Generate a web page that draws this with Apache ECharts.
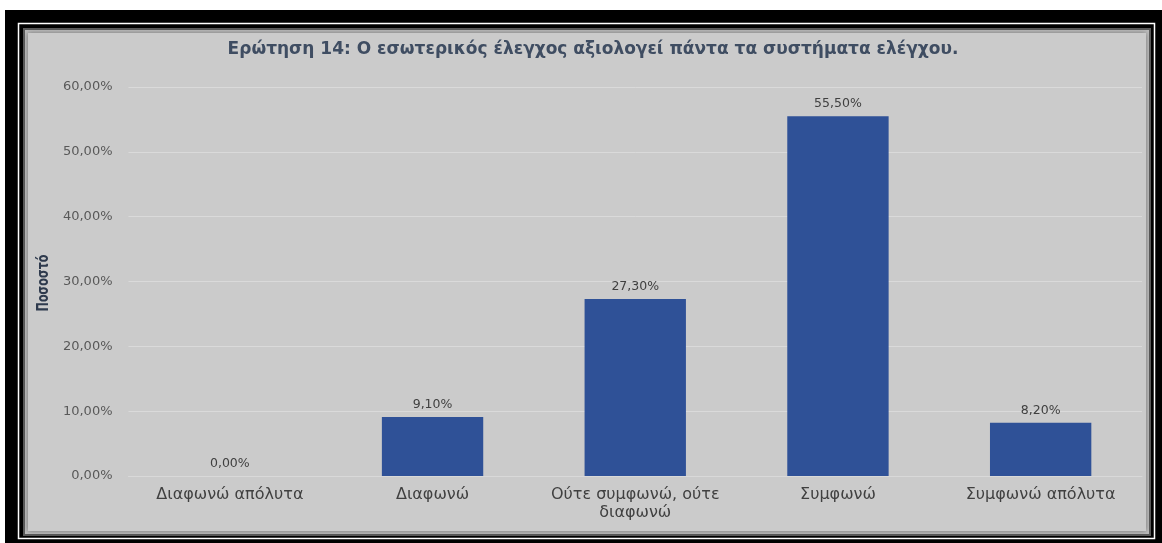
<!DOCTYPE html>
<html>
<head>
<meta charset="utf-8">
<script src="https://cdn.jsdelivr.net/npm/echarts@6/dist/echarts.min.js"></script>
<style>
  html, body { margin: 0; padding: 0; background: #ffffff; }
  #chart { width: 1162px; height: 543px; }
</style>
</head>
<body>
<div id="chart"></div>
<script>
// Survey question 14: response shares per answer option
const titleText = 'Ερώτηση 14: Ο εσωτερικός έλεγχος αξιολογεί πάντα τα συστήματα ελέγχου.';
const categories = ['Διαφωνώ απόλυτα', 'Διαφωνώ', 'Ούτε συμφωνώ, ούτε\nδιαφωνώ', 'Συμφωνώ', 'Συμφωνώ απόλυτα'];
const percentages = [0.0, 9.1, 27.3, 55.5, 8.2];
const yAxisName = 'Ποσοστό';

const fmt = v => v.toFixed(2).replace('.', ',') + '%';
const FONT = 'DejaVu Sans';

const chart = echarts.init(document.getElementById('chart'));
chart.setOption({
  backgroundColor: '#ffffff',
  animation: false,
  graphic: [
    // outer black frame with a thin white rule inside it
    { type: 'rect', z: -10, shape: { x: 5, y: 10, width: 1157, height: 533 }, style: { fill: '#000000' } },
    { type: 'rect', z: -9, shape: { x: 18.5, y: 23.5, width: 1136, height: 515 }, style: { fill: 'none', stroke: '#ffffff', lineWidth: 1.5 } },
    // grey chart panel with a soft inner edge
    { type: 'rect', z: -8, shape: { x: 24, y: 29, width: 1126, height: 506 },
      style: { fill: '#bdbdbd', stroke: '#5a5a5a', lineWidth: 2 } },
    { type: 'rect', z: -7, shape: { x: 28, y: 33, width: 1118, height: 498 },
      style: { fill: '#cbcbcb', shadowBlur: 5, shadowColor: 'rgba(0,0,0,0.4)' } },
    // vertical axis title, set in a narrow bold face
    { type: 'text', z: 10, x: 44, y: 283, rotation: Math.PI / 2, scaleX: 0.72, scaleY: 1,
      style: { text: yAxisName, fontFamily: FONT, fontWeight: 'bold', fontSize: 15.5, fill: '#2e3a4d',
               align: 'center', verticalAlign: 'middle' } }
  ],
  title: {
    text: titleText,
    left: 588,
    top: 36,
    textAlign: 'center',
    textStyle: { fontFamily: FONT, fontWeight: 'bold', fontSize: 17, color: '#3f4d62' }
  },
  grid: { left: 128.5, right: 20, top: 87, bottom: 67, containLabel: false },
  xAxis: {
    type: 'category',
    data: categories,
    axisLine: { lineStyle: { color: '#d9d9d9', width: 1 } },
    axisTick: { show: false },
    axisLabel: { color: '#404040', fontFamily: FONT, fontSize: 16, margin: 10, lineHeight: 18, interval: 0 }
  },
  yAxis: {
    type: 'value',
    min: 0,
    max: 60,
    interval: 10,
    axisLine: { show: false },
    axisTick: { show: false },
    splitLine: { lineStyle: { color: '#dadada', width: 1 } },
    axisLabel: { color: '#595959', fontFamily: FONT, fontSize: 13, margin: 16, formatter: v => fmt(v) }
  },
  series: [{
    type: 'bar',
    data: percentages,
    barWidth: '50%',
    itemStyle: { color: '#2f5197' },
    label: {
      show: true,
      position: 'top',
      distance: 6,
      color: '#404040',
      fontFamily: FONT,
      fontSize: 12.5,
      formatter: p => fmt(p.value)
    }
  }]
});
</script>
</body>
</html>
